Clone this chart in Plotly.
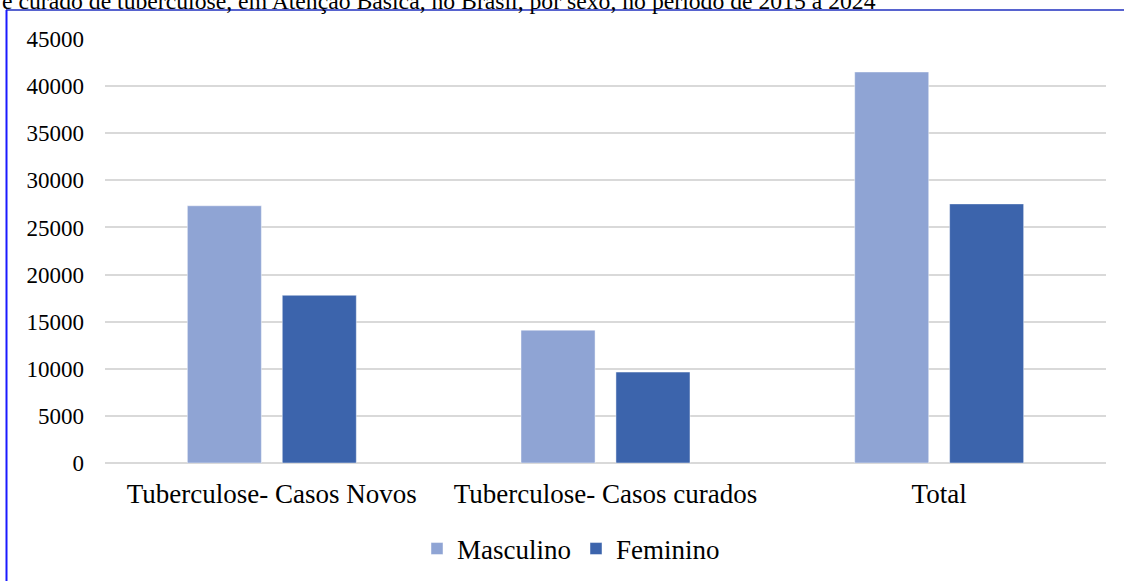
import plotly.graph_objects as go

# Categories and counts per sex
categorias = ["Tuberculose- Casos Novos", "Tuberculose- Casos curados", "Total"]
masculino = [27300, 14100, 41500]
feminino = [17800, 9650, 27500]
y_ticks = [0, 5000, 10000, 15000, 20000, 25000, 30000, 35000, 40000, 45000]

titulo = "e curado de tuberculose, em Atenção Básica, no Brasil, por sexo, no período de 2015 a 2024"

FONT = "Liberation Serif, Times New Roman, serif"
COR_M = "#8FA4D4"
COR_F = "#3C64AC"

fig = go.Figure()
fig.add_trace(go.Bar(
    name="Masculino", x=categorias, y=masculino,
    marker=dict(color=COR_M, line=dict(color="rgba(255,255,255,0.45)", width=1)),
))
fig.add_trace(go.Bar(
    name="Feminino", x=categorias, y=feminino,
    marker=dict(color=COR_F, line=dict(color="rgba(255,255,255,0.45)", width=1)),
))

# plot area in pixels: x 105..1106, y 39..463
L, R, T, B = 105, 1106, 39, 463
W, H = R - L, B - T

def px_x(p):
    return (p - L) / W

def px_y(p):
    return (B - p) / H

fig.update_layout(
    width=1124, height=581,
    margin=dict(l=L, r=1124 - R, t=T, b=581 - B, autoexpand=False),
    paper_bgcolor="white", plot_bgcolor="white",
    barmode="group", bargap=0.431, bargroupgap=0.22,
    font=dict(family=FONT, size=22, color="#000000"),
    showlegend=True,
    legend=dict(
        orientation="h", xref="container", yref="container",
        x=571 / 1124, xanchor="center", y=1 - 549 / 581, yanchor="middle",
        font=dict(family=FONT, size=27, color="#000000"),
        itemwidth=30, traceorder="normal",
    ),
    xaxis=dict(
        showgrid=False, showline=False, ticks="", zeroline=False,
        automargin=False,
        tickfont=dict(family=FONT, size=27, color="#000000"),
        ticklabelstandoff=12,
    ),
    yaxis=dict(
        range=[0, 45000], tickvals=y_ticks, ticktext=[str(v) for v in y_ticks],
        showgrid=True, gridcolor="#d9d9d9", gridwidth=1.5,
        zeroline=True, zerolinecolor="#d9d9d9", zerolinewidth=1.5,
        showline=False, ticks="", automargin=False,
        tickfont=dict(family=FONT, size=23, color="#000000"),
        ticklabelstandoff=20,
    ),
)

# Title line (partially above the page)
fig.add_annotation(
    text=titulo, xref="paper", yref="paper",
    x=px_x(0), xanchor="left", y=px_y(16), yanchor="bottom",
    showarrow=False, font=dict(family=FONT, size=23.7, color="#000000"),
)

# Frame around the chart
fig.add_shape(type="line", xref="paper", yref="paper",
              x0=px_x(6), x1=px_x(1130), y0=px_y(10), y1=px_y(10),
              line=dict(color="#1f2fbf", width=1.5))
fig.add_shape(type="line", xref="paper", yref="paper",
              x0=px_x(6.5), x1=px_x(6.5), y0=px_y(10), y1=px_y(590),
              line=dict(color="#1a1aff", width=2))

fig.write_html("out.html")
